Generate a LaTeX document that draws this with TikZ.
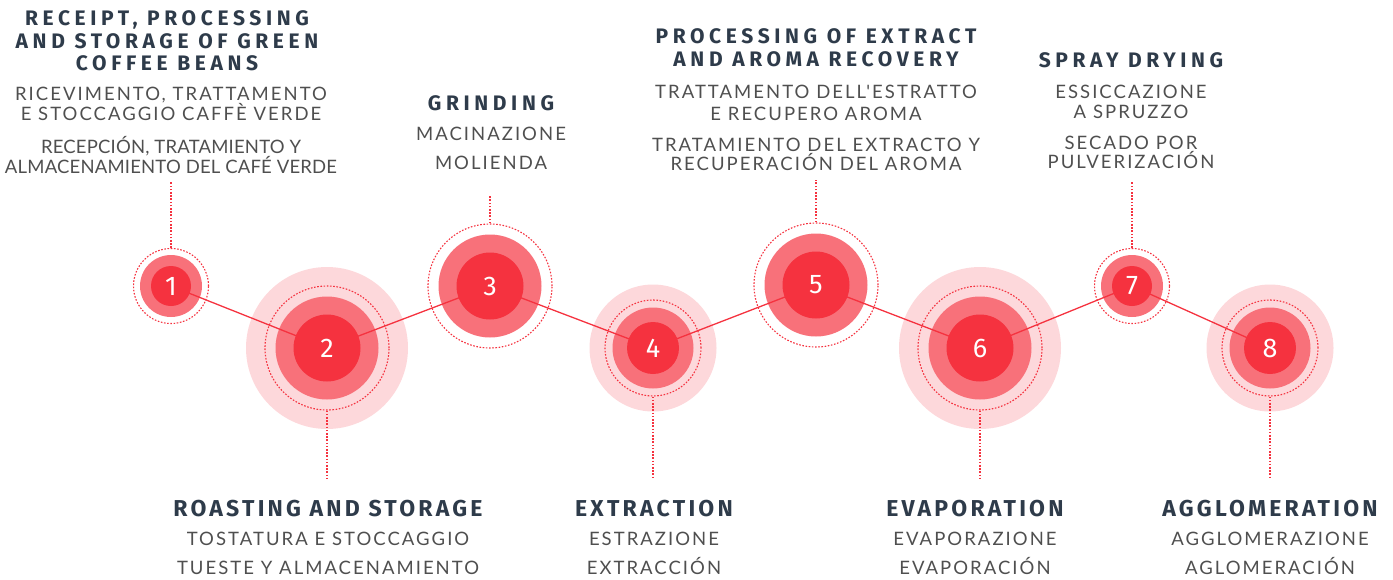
\documentclass[tikz,border=0pt]{standalone}
\usepackage{fontspec}
\setmainfont{Lato}
\newfontfamily\hdfont{Fira Sans}[LetterSpace=22]
\newfontfamily\hdbfont{Fira Sans}[LetterSpace=14]
\newfontfamily\subfont{Lato}[LetterSpace=11,Ligatures=TeXOff]
\newfontfamily\subnfont{Lato}[LetterSpace=1]
\newfontfamily\numfont{Fira Sans}
\definecolor{cred}{HTML}{F5323F}
\definecolor{cmid}{HTML}{F8717A}
\definecolor{cpale}{HTML}{FDD8DB}
\definecolor{chead}{HTML}{2E3B4A}
\definecolor{csub}{HTML}{4F4F4F}
\tikzset{
  pale/.style={circle,fill=cpale,draw=none,inner sep=0pt,minimum size=#1},
  midc/.style={circle,fill=cmid,draw=none,inner sep=0pt,minimum size=#1},
  ring/.style={circle,draw=cred,line width=1.1pt,dash pattern=on 1.6pt off 1.6pt,inner sep=0pt,minimum size=#1},
  core/.style={circle,fill=cred,draw=none,inner sep=0pt,minimum size=#1,text=white,font=\numfont\fontsize{27}{27}\selectfont},
  link/.style={draw=cred,line width=1.3pt},
  leader/.style={draw=cred,line width=1.2pt,dash pattern=on 1.6pt off 1.6pt},
  hdr/.style={anchor=base,inner sep=0pt,text=chead,font=\hdfont\bfseries\fontsize{21}{21}\selectfont},
  hdrb/.style={anchor=base,inner sep=0pt,text=chead,font=\hdbfont\bfseries\fontsize{23}{23}\selectfont},
  sub/.style={anchor=base,inner sep=0pt,text=csub,font=\subfont\fontsize{18.5}{18.5}\selectfont},
  subn/.style={anchor=base,inner sep=0pt,text=csub,font=\subnfont\fontsize{18.5}{18.5}\selectfont},
}
\begin{document}
\begin{tikzpicture}[x=1pt,y=-1pt]
\useasboundingbox (0,0) rectangle (1393,579);
% pale halos
\node[pale=162] (p2) at (327,348) {};
\node[pale=127] (p4) at (653,348) {};
\node[pale=162] (p6) at (980,348) {};
\node[pale=127] (p8) at (1270,348) {};
% middle rings
\node[midc=62] (m1) at (171,286) {};
\node[midc=103] (m2) at (327,348) {};
\node[midc=103] (m3) at (490,286) {};
\node[midc=81] (m4) at (653,348) {};
\node[midc=103] (m5) at (816,285) {};
\node[midc=103] (m6) at (980,348) {};
\node[midc=62] (m7) at (1132,286) {};
\node[midc=81] (m8) at (1270,348) {};
% dotted rings
\node[ring=75] (r1) at (171,286) {};
\node[ring=124] (r2) at (327,348) {};
\node[ring=124] (r3) at (490,286) {};
\node[ring=96] (r4) at (653,348) {};
\node[ring=124] (r5) at (816,285) {};
\node[ring=124] (r6) at (980,348) {};
\node[ring=75] (r7) at (1132,286) {};
\node[ring=96] (r8) at (1270,348) {};
% connecting line
\draw[link] (m1.center) -- (m2.center) -- (m3.center) -- (m4.center) -- (m5.center) -- (m6.center) -- (m7.center) -- (m8.center);
% cores
\node[core=40] (c1) at (171,286) {1};
\node[core=67] (c2) at (327,348) {2};
\node[core=67] (c3) at (490,286) {3};
\node[core=52] (c4) at (653,348) {4};
\node[core=67] (c5) at (816,285) {5};
\node[core=67] (c6) at (980,348) {6};
\node[core=40] (c7) at (1132,286) {7};
\node[core=52] (c8) at (1270,348) {8};
% leaders
\coordinate (t1) at (171,182);
\coordinate (t3) at (490,195);
\coordinate (t5) at (816,180);
\coordinate (t7) at (1132,181);
\coordinate (b2) at (327,479);
\coordinate (b4) at (653,479);
\coordinate (b6) at (980,479);
\coordinate (b8) at (1270,479);
\draw[leader] (r1.north) -- (t1);
\draw[leader] (r3.north) -- (t3);
\draw[leader] (r5.north) -- (t5);
\draw[leader] (r7.north) -- (t7);
\draw[leader] (r2.south) -- (b2);
\draw[leader] (r4.south) -- (b4);
\draw[leader] (r6.south) -- (b6);
\draw[leader] (r8.south) -- (b8);
% block 1
\node[hdr] (h1a) at (167,25) {RECEIPT, PROCESSING};
\node[hdr] (h1b) at (167,48) {AND STORAGE OF GREEN};
\node[hdr] (h1c) at (167,70.5) {COFFEE BEANS};
\node[sub] (i1a) at (171,100.5) {RICEVIMENTO, TRATTAMENTO};
\node[sub] (i1b) at (171,120.5) {E STOCCAGGIO CAFFÈ VERDE};
\node[subn] (s1a) at (171,153) {RECEPCIÓN, TRATAMIENTO Y};
\node[subn] (s1b) at (171,173) {ALMACENAMIENTO DEL CAFÉ VERDE};
% block 3
\node[hdr] (h3) at (491,110) {GRINDING};
\node[sub] (i3) at (491,140) {MACINAZIONE};
\node[sub] (s3) at (491,169) {MOLIENDA};
% block 5
\node[hdr] (h5a) at (816,43.5) {PROCESSING OF EXTRACT};
\node[hdr] (h5b) at (816,66.5) {AND AROMA RECOVERY};
\node[sub] (i5a) at (816,98.5) {TRATTAMENTO DELL'ESTRATTO};
\node[sub] (i5b) at (816,120) {E RECUPERO AROMA};
\node[sub] (s5a) at (816,151.5) {TRATAMIENTO DEL EXTRACTO Y};
\node[sub] (s5b) at (816,170) {RECUPERACIÓN DEL AROMA};
% block 7
\node[hdr] (h7) at (1131,67.5) {SPRAY DRYING};
\node[sub] (i7a) at (1131,98.5) {ESSICCAZIONE};
\node[sub] (i7b) at (1131,118.5) {A SPRUZZO};
\node[sub] (s7a) at (1131,149.5) {SECADO POR};
\node[sub] (s7b) at (1131,168.5) {PULVERIZACIÓN};
% bottom blocks
\node[hdrb] (h2) at (328,516) {ROASTING AND STORAGE};
\node[sub] (i2) at (328,545.5) {TOSTATURA E STOCCAGGIO};
\node[sub] (s2) at (328,574) {TUESTE Y ALMACENAMIENTO};
\node[hdrb] (h4) at (654,516) {EXTRACTION};
\node[sub] (i4) at (654,545.5) {ESTRAZIONE};
\node[sub] (s4) at (654,574) {EXTRACCIÓN};
\node[hdrb] (h6) at (975,516) {EVAPORATION};
\node[sub] (i6) at (975,545.5) {EVAPORAZIONE};
\node[sub] (s6) at (975,574) {EVAPORACIÓN};
\node[hdrb] (h8) at (1270,516) {AGGLOMERATION};
\node[sub] (i8) at (1270,545.5) {AGGLOMERAZIONE};
\node[sub] (s8) at (1270,574) {AGLOMERACIÓN};
\end{tikzpicture}
\end{document}
